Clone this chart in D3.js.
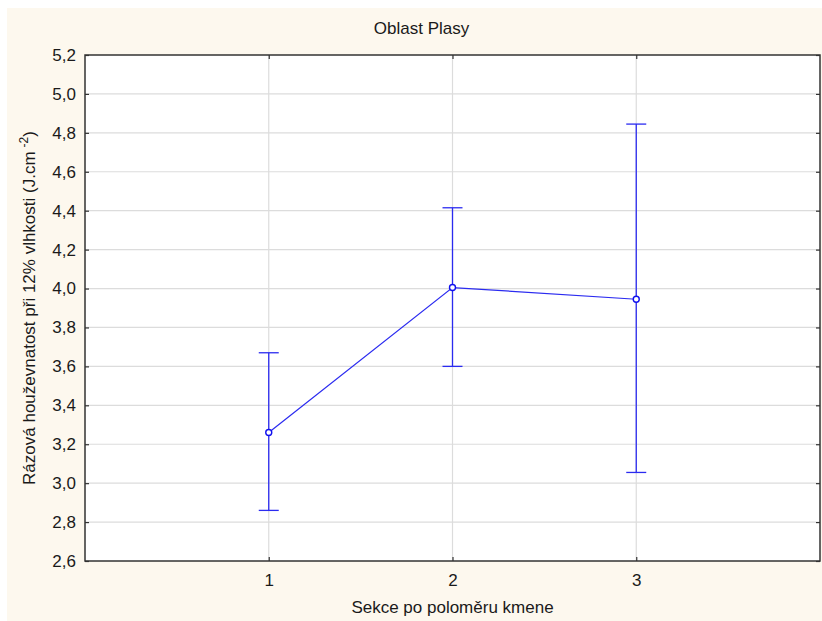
<!DOCTYPE html>
<html>
<head>
<meta charset="utf-8">
<script src="https://cdn.jsdelivr.net/npm/d3@7"></script>
<style>
  body { margin: 0; background: #fff; }
  svg text { font-family: "Liberation Sans", Arial, sans-serif; fill: #1a1a1a; }
</style>
</head>
<body>
<div class="wrapper"></div>
<script>
var title = "Oblast Plasy";
var xLabel = "Sekce po poloměru kmene";
var yLabel = "Rázová houževnatost při 12% vlhkosti (J.cm";
var sections = [1, 2, 3];
var means = [3.26, 4.005, 3.945];
var upper = [3.67, 4.415, 4.845];
var lower = [2.86, 3.60, 3.055];
var yTicks = [2.6, 2.8, 3.0, 3.2, 3.4, 3.6, 3.8, 4.0, 4.2, 4.4, 4.6, 4.8, 5.0, 5.2];

var width = 822, height = 621;
var margin = { top: 55, right: 2, bottom: 60, left: 85 };
var lineColor = "#2b2bf0";
var fontSize = "17px";

var svg = d3.select(".wrapper").append("svg")
  .attr("width", width)
  .attr("height", height);

svg.append("rect")
  .attr("x", 7).attr("y", 8)
  .attr("width", width - 7).attr("height", height - 8)
  .attr("fill", "#fdf8ee");

var x = d3.scaleLinear().domain([0, 4]).range([margin.left, width - margin.right]);
var y = d3.scaleLinear().domain([2.6, 5.2]).range([height - margin.bottom, margin.top]);

var plot = svg.append("g");

plot.append("rect")
  .attr("x", x(0)).attr("y", y(5.2))
  .attr("width", x(4) - x(0)).attr("height", y(2.6) - y(5.2))
  .attr("fill", "#fff");

// grid
plot.selectAll(".hgrid").data(yTicks.slice(1, -1)).enter().append("line")
  .attr("x1", x(0)).attr("x2", x(4))
  .attr("y1", d => y(d)).attr("y2", d => y(d))
  .attr("stroke", "#dcdcdc").attr("stroke-width", 1.2);
plot.selectAll(".vgrid").data(sections).enter().append("line")
  .attr("x1", d => x(d)).attr("x2", d => x(d))
  .attr("y1", y(5.2)).attr("y2", y(2.6))
  .attr("stroke", "#dcdcdc").attr("stroke-width", 1.2);

// axes
var axisLeft = d3.axisLeft(y).tickValues(yTicks).tickFormat(d => d3.format(".1f")(d).replace(".", ",")).tickSizeInner(-4).tickSizeOuter(0).tickPadding(9);
var axisRight = d3.axisRight(y).tickValues(yTicks).tickFormat("").tickSizeInner(-4).tickSizeOuter(0);
var axisBottom = d3.axisBottom(x).tickValues(sections).tickFormat(d3.format("d")).tickSizeInner(-4).tickSizeOuter(0).tickPadding(13);
var axisTop = d3.axisTop(x).tickValues(sections).tickFormat("").tickSizeInner(-4).tickSizeOuter(0);

function styleAxis(g) {
  g.select(".domain").remove();
  g.selectAll(".tick line").attr("stroke", "#333").attr("stroke-width", 1.2);
  g.selectAll(".tick text").style("font-size", fontSize).attr("fill", "#1a1a1a")
    .style("font-family", "'Liberation Sans', Arial, sans-serif");
}

plot.append("g").attr("transform", `translate(${x(0)},0)`).call(axisLeft).call(styleAxis);
plot.append("g").attr("transform", `translate(${x(4)},0)`).call(axisRight).call(styleAxis);
plot.append("g").attr("transform", `translate(0,${y(2.6)})`).call(axisBottom).call(styleAxis);
plot.append("g").attr("transform", `translate(0,${y(5.2)})`).call(axisTop).call(styleAxis);

plot.append("rect")
  .attr("x", x(0)).attr("y", y(5.2))
  .attr("width", x(4) - x(0)).attr("height", y(2.6) - y(5.2))
  .attr("fill", "none").attr("stroke", "#333").attr("stroke-width", 1.5);

// error bars
var data = sections.map((s, i) => ({ s: s, m: means[i], hi: upper[i], lo: lower[i] }));
var eb = plot.selectAll(".eb").data(data).enter().append("g").attr("class", "eb");
eb.append("line")
  .attr("x1", d => x(d.s)).attr("x2", d => x(d.s))
  .attr("y1", d => y(d.hi)).attr("y2", d => y(d.lo))
  .attr("stroke", lineColor).attr("stroke-width", 1.3);
eb.append("line")
  .attr("x1", d => x(d.s) - 10).attr("x2", d => x(d.s) + 10)
  .attr("y1", d => y(d.hi)).attr("y2", d => y(d.hi))
  .attr("stroke", lineColor).attr("stroke-width", 1.3);
eb.append("line")
  .attr("x1", d => x(d.s) - 10).attr("x2", d => x(d.s) + 10)
  .attr("y1", d => y(d.lo)).attr("y2", d => y(d.lo))
  .attr("stroke", lineColor).attr("stroke-width", 1.3);

plot.append("path")
  .datum(data)
  .attr("d", d3.line().x(d => x(d.s)).y(d => y(d.m)))
  .attr("fill", "none").attr("stroke", lineColor).attr("stroke-width", 1.2);

plot.selectAll(".pt").data(data).enter().append("circle")
  .attr("cx", d => x(d.s)).attr("cy", d => y(d.m)).attr("r", 3)
  .attr("fill", "#fff").attr("stroke", "#1010ee").attr("stroke-width", 1.4);

// titles
svg.append("text").attr("x", (x(0) + x(4)) / 2 - 31).attr("y", 34)
  .attr("text-anchor", "middle").style("font-size", fontSize).text(title);
svg.append("text").attr("x", (x(0) + x(4)) / 2).attr("y", 613)
  .attr("text-anchor", "middle").style("font-size", fontSize).text(xLabel);

var yt = svg.append("text")
  .attr("transform", `translate(35,${(y(2.6) + y(5.2)) / 2}) rotate(-90)`)
  .attr("text-anchor", "middle").style("font-size", fontSize);
yt.append("tspan").text(yLabel);
yt.append("tspan").attr("dx", 4).attr("dy", -7).style("font-size", "12px").text("-2");
yt.append("tspan").attr("dy", 7).text(")");
</script>
</body>
</html>
